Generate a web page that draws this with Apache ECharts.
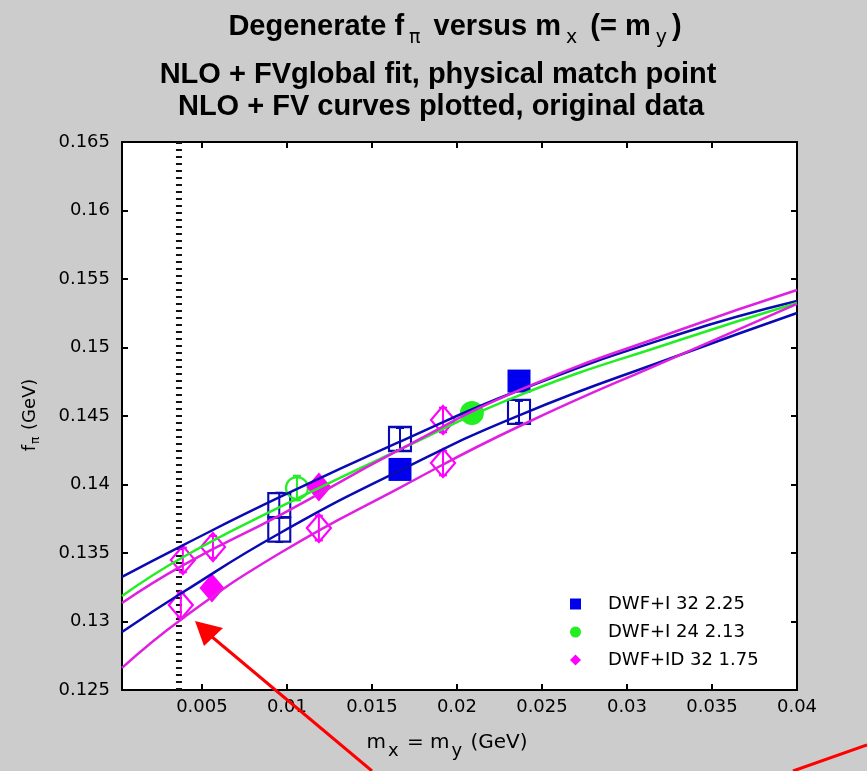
<!DOCTYPE html>
<html><head><meta charset="utf-8">
<script src="https://cdn.jsdelivr.net/npm/echarts@6/dist/echarts.min.js"></script>
<style>html,body{margin:0;padding:0;background:#cccccc;}#c{width:867px;height:771px;}</style>
</head><body><div id="c"></div>
<script>
// ---- data ----
const xTicks = [0.005, 0.01, 0.015, 0.02, 0.025, 0.03, 0.035, 0.04];
const xTickLabels = ['0.005','0.01','0.015','0.02','0.025','0.03','0.035','0.04'];
const physicalMx = 0.00365;

const fitX = [0.0003, 0.0039, 0.0096, 0.0166, 0.0237, 0.0331, 0.04];
const fitBlueUpper    = [0.13325, 0.13558, 0.13909, 0.14310, 0.14690, 0.15099, 0.15339];
const fitGreen        = [0.13186, 0.13471, 0.13836, 0.14252, 0.14653, 0.15055, 0.15325];
const fitMagentaUpper = [0.13135, 0.13412, 0.13777, 0.14252, 0.14690, 0.15128, 0.15420];
const fitBlueLower    = [0.12923, 0.13215, 0.13646, 0.14099, 0.14507, 0.14945, 0.15252];
const fitMagentaLower = [0.12661, 0.13026, 0.13500, 0.13974, 0.14427, 0.14945, 0.15318];

const blueFilledX = [0.01665, 0.02365];
const blueFilledY = [0.14110, 0.14755];
const blueOpenX = [0.00955, 0.00955, 0.01665, 0.02365];
const blueOpenY = [0.13850, 0.13670, 0.14332, 0.14530];
const blueOpenErr = [0.0009, 0.0009, 0.0008, 0.0008];

const greenFilledX = [0.02088];
const greenFilledY = [0.14522];
const greenOpenX = [0.01059];
const greenOpenY = [0.13974];
const greenOpenErr = [0.0009];

const magentaFilledX = [0.00559, 0.01188];
const magentaFilledY = [0.13244, 0.13982];
const magentaOpenX = [0.00388, 0.00376, 0.00565, 0.01188, 0.01918, 0.01918];
const magentaOpenY = [0.13449, 0.13120, 0.13544, 0.13682, 0.14471, 0.14157];
const magentaOpenErr = [0.0009, 0.0009, 0.0008, 0.0009, 0.0009, 0.0009];

const seriesNames = ['DWF+I 32 2.25', 'DWF+I 24 2.13', 'DWF+ID 32 1.75'];

// ---- build ----
const BLUE = '#0000ee', BLUE_L = '#0a0ab4', GREEN = '#22ee22', MAG = '#ff00ff', MAG_L = '#e020e0';
const zip = (a, b) => a.map((v, i) => [v, b[i]]);
const fitLine = (ys, color) => ({
  type: 'line', data: zip(fitX, ys), smooth: 0.5, symbol: 'none', z: 5,
  lineStyle: { color, width: 2.5 }, silent: true, name: '_fit'
});
const errSeries = (xs, ys, es, color) => ({
  type: 'custom', z: 3, silent: true, name: '_err',
  data: xs.map((x, i) => [x, ys[i] - es[i], ys[i] + es[i]]),
  renderItem: (p, api) => {
    const lo = api.coord([api.value(0), api.value(1)]);
    const hi = api.coord([api.value(0), api.value(2)]);
    const st = { stroke: color, lineWidth: 2 };
    return { type: 'group', children: [
      { type: 'line', shape: { x1: lo[0], y1: lo[1], x2: hi[0], y2: hi[1] }, style: st },
      { type: 'line', shape: { x1: lo[0] - 4, y1: lo[1], x2: lo[0] + 4, y2: lo[1] }, style: st },
      { type: 'line', shape: { x1: hi[0] - 4, y1: hi[1], x2: hi[0] + 4, y2: hi[1] }, style: st }
    ]};
  }
});
const scat = (name, xs, ys, symbol, size, color, filled) => ({
  type: 'scatter', name, data: zip(xs, ys), symbol, symbolSize: size, z: 4,
  itemStyle: filled ? { color, borderWidth: 0, opacity: 1 } :
    { color: 'rgba(0,0,0,0)', borderColor: color, borderWidth: 2.2, opacity: 1 }
});

const FONT = 'Liberation Sans';
const chart = echarts.init(document.getElementById('c'));
chart.setOption({
  backgroundColor: '#cccccc',
  animation: false,
  grid: { left: 122, top: 142, width: 675, height: 548, show: true, backgroundColor: '#ffffff', borderWidth: 0 },
  xAxis: [{
    type: 'value', min: 0.0003, max: 0.04, position: 'bottom',
    axisLine: { lineStyle: { color: '#000', width: 2 } },
    axisTick: { inside: true, length: 6, lineStyle: { color: '#000', width: 2 }, customValues: xTicks },
    axisLabel: { customValues: xTicks, color: '#000', fontFamily: 'DejaVu Sans', fontSize: 18, margin: 8,
      formatter: v => xTickLabels[xTicks.findIndex(t => Math.abs(t - v) < 1e-9)] || '' },
    splitLine: { show: false },
    name: '{n|m}{s|x}{n| = m}{s|y}{n| (GeV)}', nameLocation: 'middle', nameGap: 36,
    nameTextStyle: { padding: [0, 25, 0, 0], rich: { n: { fontFamily: 'DejaVu Sans', fontSize: 20, color: '#000' },
      s: { fontFamily: 'DejaVu Sans', fontSize: 18, color: '#000', padding: [16, 2, 0, 2] } } }
  }, {
    type: 'value', min: 0.0003, max: 0.04, position: 'top',
    axisLine: { lineStyle: { color: '#000', width: 2 } },
    axisTick: { inside: true, length: 6, lineStyle: { color: '#000', width: 2 }, customValues: xTicks },
    axisLabel: { show: false }, splitLine: { show: false }
  }],
  yAxis: [{
    type: 'value', min: 0.125, max: 0.165, interval: 0.005, position: 'left',
    axisLine: { lineStyle: { color: '#000', width: 2 } },
    axisTick: { inside: true, length: 6, lineStyle: { color: '#000', width: 2 } },
    axisLabel: { color: '#000', fontFamily: 'DejaVu Sans', fontSize: 18, margin: 12,
      formatter: v => String(parseFloat(v.toFixed(3))) },
    splitLine: { show: false }
  }, {
    type: 'value', min: 0.125, max: 0.165, interval: 0.005, position: 'right',
    axisLine: { lineStyle: { color: '#000', width: 2 } },
    axisTick: { inside: true, length: 6, lineStyle: { color: '#000', width: 2 } },
    axisLabel: { show: false }, splitLine: { show: false }
  }],
  legend: {
    orient: 'vertical', left: 565, top: 590, itemGap: 10, itemWidth: 11, itemHeight: 11,
    symbolKeepAspect: true,
    formatter: n => '{t|' + n + '}',
    textStyle: { rich: { t: { fontFamily: 'DejaVu Sans', fontSize: 18, color: '#000', padding: [0, 0, 0, 22] } } },
    data: [
      { name: seriesNames[0], icon: 'rect', itemStyle: { color: BLUE, borderWidth: 0 } },
      { name: seriesNames[1], icon: 'circle', itemStyle: { color: GREEN, borderWidth: 0 } },
      { name: seriesNames[2], icon: 'diamond', itemStyle: { color: MAG, borderWidth: 0 } }
    ]
  },
  graphic: [
    { type: 'text', x: 455, y: 5, z: 10,
      style: { text: '{t|Degenerate f}{s|π}{t| versus m}{s|x}{t| (= m}{s|y}{t|)}', align: 'center', verticalAlign: 'top',
        rich: { t: { fontFamily: FONT, fontWeight: 'bold', fontSize: 29, fill: '#000' },
                s: { fontFamily: 'DejaVu Sans', fontSize: 19, fill: '#000', padding: [24, 5, 0, 5] } } } },
    { type: 'text', x: 438, y: 60, z: 10,
      style: { text: 'NLO + FVglobal fit, physical match point', align: 'center', verticalAlign: 'top',
        font: 'bold 29px "Liberation Sans"', fill: '#000' } },
    { type: 'text', x: 441, y: 92, z: 10,
      style: { text: 'NLO + FV curves plotted, original data', align: 'center', verticalAlign: 'top',
        font: 'bold 29px "Liberation Sans"', fill: '#000' } },
    { type: 'text', x: 30, y: 415, rotation: Math.PI / 2, z: 10,
      style: { text: '{n|f}{s|π}{n| (GeV)}', align: 'center', verticalAlign: 'middle',
        rich: { n: { fontFamily: 'DejaVu Sans', fontSize: 18, fill: '#000' },
                s: { fontFamily: 'DejaVu Sans', fontSize: 12, fill: '#000', padding: [12, 1, 0, 1] } } } },
    { type: 'line', z: 20, shape: { x1: 372, y1: 771, x2: 205, y2: 631 }, style: { stroke: '#ff0000', lineWidth: 3 } },
    { type: 'polygon', z: 20, shape: { points: [[195, 621], [223, 628], [204, 646]] }, style: { fill: '#ff0000' } },
    { type: 'line', z: 20, shape: { x1: 793, y1: 771, x2: 867, y2: 745 }, style: { stroke: '#ff0000', lineWidth: 3 } }
  ],
  series: [
    { type: 'line', name: '_phys', data: [[physicalMx, 0.125], [physicalMx, 0.165]], symbol: 'none', z: 2, silent: true,
      lineStyle: { color: '#111', width: 6, type: [2, 5] } },
    errSeries(blueOpenX, blueOpenY, blueOpenErr, BLUE_L),
    errSeries(greenOpenX, greenOpenY, greenOpenErr, GREEN),
    errSeries(magentaOpenX, magentaOpenY, magentaOpenErr, MAG),
    scat(seriesNames[0], blueFilledX, blueFilledY, 'rect', [23, 23], BLUE, true),
    scat(seriesNames[0], blueOpenX, blueOpenY, 'rect', [22, 24], BLUE_L, false),
    scat(seriesNames[1], greenFilledX, greenFilledY, 'circle', 24, GREEN, true),
    scat(seriesNames[1], greenOpenX, greenOpenY, 'circle', 22, GREEN, false),
    scat(seriesNames[2], magentaFilledX, magentaFilledY, 'diamond', [25, 29], MAG, true),
    scat(seriesNames[2], magentaOpenX, magentaOpenY, 'diamond', [24, 28], MAG, false),
    fitLine(fitBlueUpper, BLUE_L),
    fitLine(fitGreen, GREEN),
    fitLine(fitMagentaUpper, MAG_L),
    fitLine(fitBlueLower, BLUE_L),
    fitLine(fitMagentaLower, MAG_L)
  ]
});
</script></body></html>
